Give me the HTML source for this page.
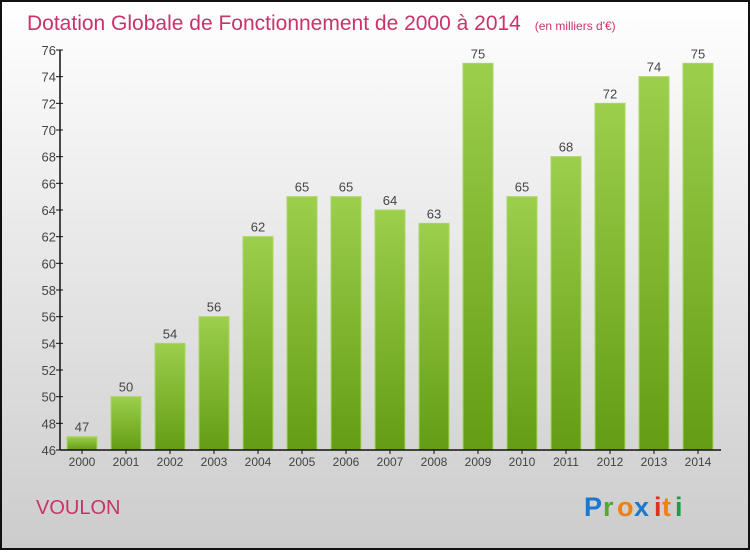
<!DOCTYPE html>
<html><head><meta charset="utf-8"><style>
html,body{margin:0;padding:0;}
body{width:750px;height:550px;overflow:hidden;font-family:"Liberation Sans",sans-serif;}
</style></head><body>
<svg id="chart" width="750" height="550" xmlns="http://www.w3.org/2000/svg">
<defs>
<linearGradient id="bg" x1="0" y1="0" x2="0" y2="1"><stop offset="0" stop-color="#ffffff"/><stop offset="1" stop-color="#cccccc"/></linearGradient>
<linearGradient id="bar" x1="0" y1="0" x2="0" y2="1"><stop offset="0" stop-color="#9ccf4c"/><stop offset="1" stop-color="#649c14"/></linearGradient>
</defs>
<rect x="1" y="1" width="748" height="548" fill="url(#bg)" stroke="#111" stroke-width="2"/>
<text x="27" y="30" font-size="21" fill="#c8336a">Dotation Globale de Fonctionnement de 2000 à 2014 <tspan font-size="12" dx="8">(en milliers d'€)</tspan></text>
<g id="plot"></g>
<text x="36" y="514" font-size="20" fill="#c8336a">VOULON</text>
<g font-size="27" font-weight="bold" font-family="'Liberation Sans',sans-serif">
<text x="584" y="516" fill="#1a78d0">P</text><text x="603" y="516" fill="#58a830">r</text><text x="617" y="516" fill="#f08010">o</text><text x="634" y="516" fill="#1a78d0">x</text><text x="654" y="516" fill="#e03020">i</text><text x="662" y="516" fill="#f08010">t</text><text x="675" y="516" fill="#18a040">i</text>
</g>
</svg>
<script>
const years=["2000","2001","2002","2003","2004","2005","2006","2007","2008","2009","2010","2011","2012","2013","2014"];
const values=[47,50,54,56,62,65,65,64,63,75,65,68,72,74,75];
const yTicks=[46,48,50,52,54,56,58,60,62,64,66,68,70,72,74,76];
const NS="http://www.w3.org/2000/svg";
const g=document.getElementById('plot');
const x0=60,x1=721,yTop=50,yBot=450,yMin=46,yMax=76;
const y=v=>yBot-(v-yMin)/(yMax-yMin)*(yBot-yTop);
const step=44,bw=30;
const cx=i=>82+i*step;
function mk(t,a){const e=document.createElementNS(NS,t);for(const k in a)e.setAttribute(k,a[k]);g.appendChild(e);return e;}
values.forEach((v,i)=>{
 const r=mk('rect',{x:cx(i)-bw/2,y:y(v),width:bw,height:yBot-y(v),fill:'url(#bar)',stroke:'#a8d860','stroke-width':1});
 
 
 const t=mk('text',{x:cx(i),y:y(v)-5,'font-size':13,fill:'#444','text-anchor':'middle'});
 t.textContent=v;
 
 
 const xl=mk('text',{x:cx(i),y:466,'font-size':12,fill:'#444','text-anchor':'middle'});
 xl.textContent=years[i];
 
 
 mk('line',{x1:cx(i),x2:cx(i),y1:yBot,y2:yBot+4,stroke:'#111'});
});
yTicks.forEach(v=>{
 mk('line',{x1:x0-4,x2:x0+3,y1:y(v),y2:y(v),stroke:'#111'});
 const t=mk('text',{x:x0-4,y:y(v)+5,'font-size':13,fill:'#444','text-anchor':'end'});
 t.textContent=v;
 
 
});
const ya=mk('line',{x1:x0,x2:x0,y1:yTop,y2:yBot,stroke:'#111','stroke-width':1.5});


const xa=mk('line',{x1:x0,x2:x1,y1:yBot,y2:yBot,stroke:'#111','stroke-width':1.5});


</script>
</body></html>
